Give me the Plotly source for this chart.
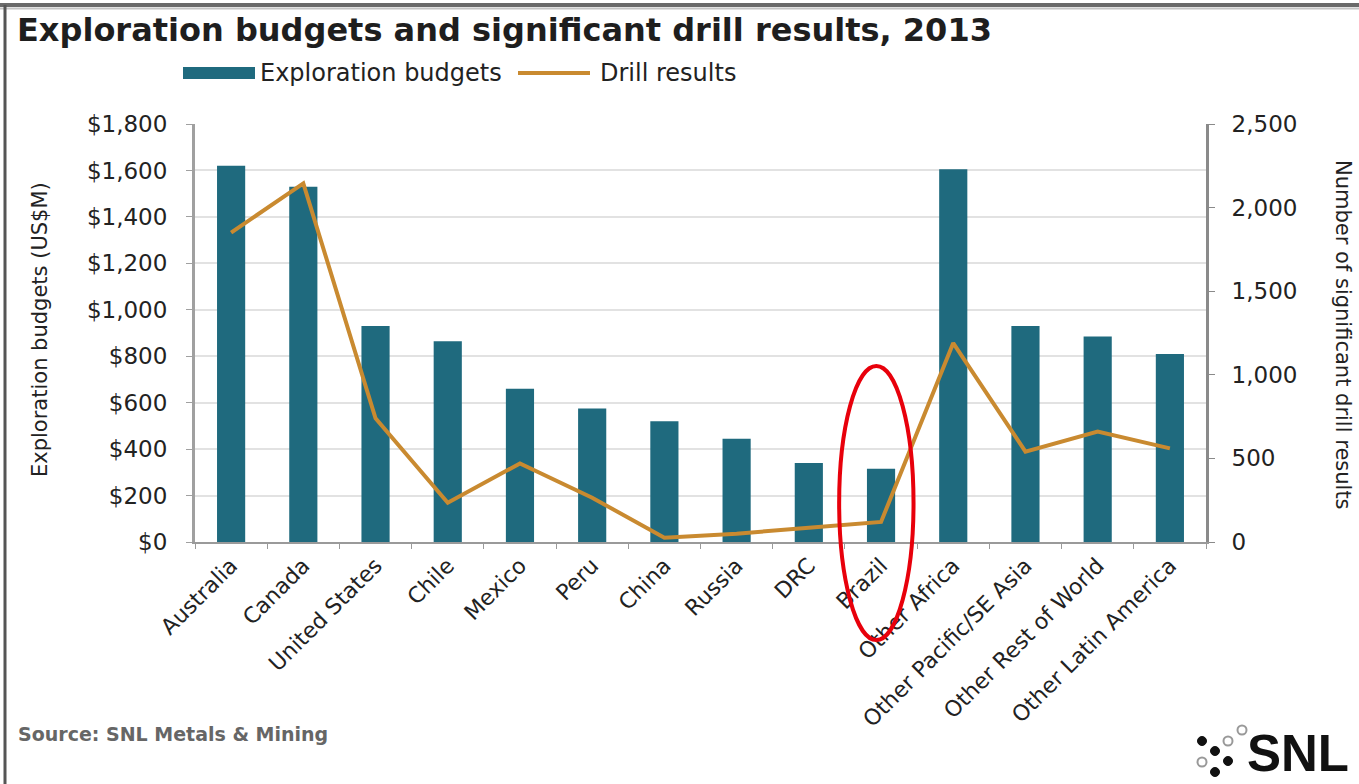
import plotly.graph_objects as go

categories = ["Australia", "Canada", "United States", "Chile", "Mexico", "Peru",
              "China", "Russia", "DRC", "Brazil", "Other Africa",
              "Other Pacific/SE Asia", "Other Rest of World", "Other Latin America"]
budgets = [1620, 1530, 930, 865, 660, 575, 520, 445, 340, 315, 1605, 930, 885, 810]
drill_results = [1850, 2145, 740, 235, 470, 265, 25, 50, 85, 120, 1190, 540, 660, 560]
left_ticks = [0, 200, 400, 600, 800, 1000, 1200, 1400, 1600, 1800]
right_ticks = [0, 500, 1000, 1500, 2000, 2500]

W, H = 1359, 784
L, R, T, B = 195, 153, 124, 242
PW, PH = W - L - R, H - T - B

def px(x):
    return (x - L) / PW

def py(y):
    return (H - B - y) / PH

FONT = "DejaVu Sans"
TEAL = "#1f6a7e"
GOLD = "#c98a30"

fig = go.Figure()
fig.add_trace(go.Bar(x=categories, y=budgets, name="Exploration budgets",
                     marker=dict(color=TEAL, line=dict(width=0)), yaxis="y", showlegend=False))
fig.add_trace(go.Scatter(x=categories, y=drill_results, name="Drill results",
                         mode="lines", line=dict(color=GOLD, width=4), yaxis="y2", showlegend=False))

shapes = []
# frame lines (top and left)
shapes.append(dict(type="line", xref="paper", yref="paper", x0=px(0), x1=px(W), y0=py(5), y1=py(5),
                   line=dict(color="#6a6a6a", width=4)))
shapes.append(dict(type="line", xref="paper", yref="paper", x0=px(0), x1=px(W), y0=py(8.5), y1=py(8.5),
                   line=dict(color="#c4c4c4", width=2)))
shapes.append(dict(type="line", xref="paper", yref="paper", x0=px(5), x1=px(5), y0=py(5), y1=py(H),
                   line=dict(color="#555555", width=3)))
# legend swatches
shapes.append(dict(type="rect", xref="paper", yref="paper", x0=px(183), x1=px(255), y0=py(79), y1=py(67),
                   fillcolor=TEAL, line=dict(width=0)))
shapes.append(dict(type="line", xref="paper", yref="paper", x0=px(518), x1=px(590), y0=py(73), y1=py(73),
                   line=dict(color=GOLD, width=4)))
# red ellipse highlighting Brazil
shapes.append(dict(type="circle", xref="x", yref="paper", x0=8.42, x1=9.45, y0=py(640), y1=py(366),
                   line=dict(color="#e8000b", width=4)))
# SNL logo dots
filled = [(1202, 741), (1215, 751), (1228, 761), (1215, 772)]
hollow = [(1242, 730), (1228, 741), (1202, 762)]
r = 4.5
for (cx, cy) in filled:
    shapes.append(dict(type="circle", xref="paper", yref="paper",
                       x0=px(cx - r), x1=px(cx + r), y0=py(cy + r), y1=py(cy - r),
                       fillcolor="#111111", line=dict(color="#111111", width=1)))
for (cx, cy) in hollow:
    shapes.append(dict(type="circle", xref="paper", yref="paper",
                       x0=px(cx - r), x1=px(cx + r), y0=py(cy + r), y1=py(cy - r),
                       fillcolor="rgba(0,0,0,0)", line=dict(color="#999999", width=2)))

annotations = [
    dict(text="Exploration budgets", xref="paper", yref="paper", x=px(258), y=py(73),
         showarrow=False, font=dict(family=FONT, size=24, color="#222222"),
         xanchor="left", yanchor="middle"),
    dict(text="Drill results", xref="paper", yref="paper", x=px(598), y=py(73),
         showarrow=False, font=dict(family=FONT, size=24, color="#222222"),
         xanchor="left", yanchor="middle"),
    dict(text="Exploration budgets (US$M)", xref="paper", yref="paper", x=px(40), y=py(330),
         textangle=-90, showarrow=False, font=dict(family=FONT, size=21, color="#222222"),
         xanchor="center", yanchor="middle"),
    dict(text="Number of significant drill results", xref="paper", yref="paper", x=px(1343), y=py(335),
         textangle=90, showarrow=False, font=dict(family=FONT, size=21, color="#222222"),
         xanchor="center", yanchor="middle"),
    dict(text="<b>Source: SNL Metals &amp; Mining</b>", xref="paper", yref="paper", x=px(16), y=py(734),
         showarrow=False, font=dict(family=FONT, size=19, color="#666666"),
         xanchor="left", yanchor="middle"),
    dict(text="<b>SNL</b>", xref="paper", yref="paper", x=px(1246), y=py(783),
         showarrow=False, font=dict(family="Liberation Sans", size=51, color="#111111"),
         xanchor="left", yanchor="bottom", borderpad=0),
]

fig.update_layout(
    width=W, height=H,
    margin=dict(l=L, r=R, t=T, b=B, autoexpand=False),
    paper_bgcolor="white", plot_bgcolor="white",
    title=dict(text="<b>Exploration budgets and significant drill results, 2013</b>",
               xref="container", yref="container", x=17 / W, y=1 - 30 / H,
               xanchor="left", yanchor="middle",
               font=dict(family="DejaVu Sans", size=32, color="#1e1e1e")),
    showlegend=False,
    bargap=0.61,
    xaxis=dict(type="category", tickangle=-45, tickfont=dict(family=FONT, size=22, color="#222222"),
               showline=True, linecolor="#9a9a9a", linewidth=2, ticks="outside", ticklen=5,
               tickcolor="#9a9a9a", tickson="boundaries", showgrid=False, automargin=False),
    yaxis=dict(range=[0, 1800], tickvals=left_ticks,
               ticktext=["${:,}".format(v) for v in left_ticks],
               tickfont=dict(family=FONT, size=23, color="#222222"),
               showline=True, linecolor="#a0a0a0", linewidth=3, ticks="outside", ticklen=6,
               tickcolor="#a0a0a0", showgrid=True, gridcolor="#e2e2e2", gridwidth=2,
               zeroline=False, automargin=False, ticklabelstandoff=14),
    yaxis2=dict(range=[0, 2500], tickvals=right_ticks,
                ticktext=["{:,}".format(v) for v in right_ticks],
                tickfont=dict(family=FONT, size=23, color="#222222"),
                overlaying="y", side="right", showline=True, linecolor="#8a8a8a", linewidth=3,
                ticks="outside", ticklen=6, tickcolor="#8a8a8a", showgrid=False, zeroline=False,
                automargin=False, ticklabelstandoff=12),
    shapes=shapes,
    annotations=annotations,
)

fig.write_html("out.html", config={"displayModeBar": False},
               post_script="document.body.style.margin='0';document.body.style.overflow='hidden';")
